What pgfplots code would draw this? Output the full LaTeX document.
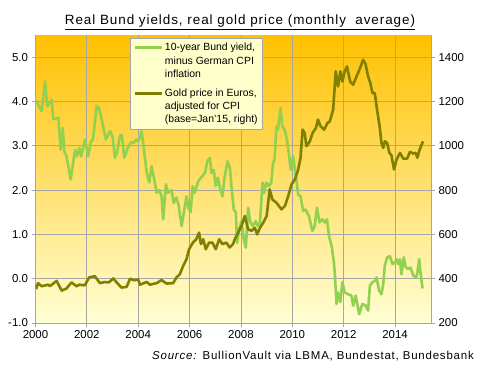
\documentclass[border=0pt]{standalone}
\usepackage{pgfplots}
\pgfplotsset{compat=1.18}
\usepackage{fontspec}
\setmainfont{Liberation Sans}
\newfontfamily\spacedfont[LetterSpace=7]{Liberation Sans}
\definecolor{bundgreen}{HTML}{92D050}
\definecolor{goldolive}{HTML}{7F7F00}
\definecolor{gridgray}{HTML}{A6A6A6}
\definecolor{bgtop}{HTML}{FFC000}
\definecolor{bgmid}{HTML}{FFF384}
\definecolor{bgbot}{HTML}{FFFFD5}
\definecolor{legbg}{HTML}{FFFFCC}

\pgfplotstableread{
x y
2000.02 4.02
2000.24 3.78
2000.37 4.45
2000.46 3.89
2000.63 4.04
2000.69 3.60
2000.89 3.63
2000.98 2.91
2001.06 3.40
2001.12 2.88
2001.21 2.76
2001.37 2.24
2001.54 2.91
2001.60 2.76
2001.71 2.95
2001.77 2.76
2001.93 3.14
2002.05 2.77
2002.16 3.10
2002.24 3.14
2002.38 3.90
2002.47 3.85
2002.58 3.59
2002.74 3.14
2002.90 3.33
2003.00 3.21
2003.09 2.73
2003.17 2.84
2003.29 3.23
2003.36 3.25
2003.46 2.73
2003.59 2.95
2003.72 3.08
2003.83 3.07
2003.93 3.14
2004.00 3.10
2004.07 3.18
2004.13 3.33
2004.20 3.03
2004.33 2.39
2004.43 2.17
2004.52 2.54
2004.61 2.28
2004.72 1.94
2004.82 2.00
2004.91 1.86
2004.97 1.34
2005.08 2.13
2005.16 1.94
2005.30 2.00
2005.38 1.71
2005.49 1.83
2005.57 1.66
2005.69 1.19
2005.78 1.50
2005.88 1.86
2005.95 1.60
2006.04 1.50
2006.12 2.09
2006.20 1.94
2006.34 2.20
2006.47 2.30
2006.60 2.39
2006.69 2.65
2006.79 2.73
2006.85 2.39
2006.94 2.45
2007.02 2.09
2007.10 2.28
2007.20 2.00
2007.28 1.86
2007.36 2.28
2007.48 2.65
2007.57 2.50
2007.63 2.09
2007.72 1.56
2007.80 1.50
2007.85 0.81
2007.93 1.11
2008.02 1.30
2008.11 0.89
2008.19 0.70
2008.28 1.60
2008.37 1.27
2008.46 1.19
2008.57 1.30
2008.65 1.19
2008.74 1.27
2008.84 2.17
2008.90 1.94
2008.99 2.17
2009.09 2.09
2009.18 2.17
2009.25 2.61
2009.31 2.69
2009.38 3.44
2009.44 3.36
2009.54 3.85
2009.61 3.44
2009.70 3.36
2009.79 3.14
2009.87 2.80
2009.94 2.46
2010.03 2.76
2010.14 2.31
2010.23 1.90
2010.32 1.86
2010.42 1.53
2010.52 1.56
2010.65 1.41
2010.78 1.08
2010.87 1.19
2010.96 1.60
2011.06 1.27
2011.17 1.34
2011.26 1.27
2011.35 1.34
2011.43 0.96
2011.53 0.74
2011.62 0.36
2011.66 0.06
2011.72 -0.57
2011.78 -0.31
2011.87 -0.53
2011.95 -0.08
2012.04 -0.31
2012.17 -0.35
2012.30 -0.38
2012.37 -0.61
2012.47 -0.38
2012.60 -0.80
2012.73 -0.57
2012.86 -0.61
2012.95 -0.72
2013.02 -0.16
2013.12 -0.08
2013.21 -0.05
2013.28 0.03
2013.38 -0.27
2013.47 -0.35
2013.54 -0.12
2013.60 0.29
2013.69 0.48
2013.80 0.51
2013.90 0.33
2013.99 0.36
2014.06 0.44
2014.12 0.33
2014.19 0.44
2014.25 0.10
2014.34 0.48
2014.41 0.27
2014.50 0.22
2014.60 0.25
2014.71 0.07
2014.81 0.03
2014.86 0.10
2014.94 0.44
2014.99 0.14
2015.07 -0.22
}\bundtable

\pgfplotstableread{
x y
2000.02 353
2000.10 380
2000.24 366
2000.50 373
2000.56 366
2000.82 390
2001.02 346
2001.21 356
2001.40 383
2001.60 366
2001.70 373
2001.92 370
2002.09 406
2002.31 411
2002.51 380
2002.70 385
2002.85 383
2003.03 401
2003.16 383
2003.35 360
2003.55 363
2003.68 400
2003.83 393
2004.00 396
2004.07 373
2004.33 385
2004.46 373
2004.72 380
2004.91 394
2005.10 378
2005.36 380
2005.49 406
2005.62 420
2005.75 458
2005.88 488
2005.98 533
2006.13 563
2006.26 578
2006.37 608
2006.44 556
2006.53 578
2006.63 533
2006.76 563
2006.89 563
2007.02 533
2007.15 578
2007.28 556
2007.43 563
2007.56 541
2007.69 556
2007.76 578
2007.89 608
2008.02 638
2008.15 683
2008.28 623
2008.41 616
2008.54 630
2008.63 600
2008.74 630
2008.87 653
2009.00 683
2009.12 803
2009.22 758
2009.38 743
2009.58 713
2009.71 728
2009.84 773
2009.97 826
2010.10 848
2010.23 893
2010.32 946
2010.40 1073
2010.48 1058
2010.55 998
2010.68 1020
2010.79 1058
2010.92 1080
2011.00 1118
2011.10 1088
2011.24 1073
2011.37 1103
2011.46 1110
2011.59 1163
2011.69 1336
2011.78 1268
2011.87 1336
2011.95 1290
2012.04 1336
2012.13 1358
2012.25 1290
2012.37 1276
2012.50 1313
2012.60 1340
2012.69 1366
2012.75 1388
2012.85 1370
2012.95 1313
2013.04 1283
2013.12 1238
2013.21 1238
2013.30 1163
2013.40 1088
2013.47 1013
2013.54 990
2013.60 1020
2013.69 1013
2013.78 968
2013.86 957
2013.96 893
2014.06 938
2014.19 968
2014.32 942
2014.47 942
2014.58 972
2014.71 965
2014.81 968
2014.87 946
2014.96 983
2015.09 1020
}\goldtable

\begin{document}
\begin{tikzpicture}
\useasboundingbox (0bp,0bp) rectangle (480bp,367bp);
\pgfplotsset{
  common/.style={
    at={(35.5bp,44bp)}, anchor=south west,
    scale only axis, width=395.5bp, height=288bp,
    xmin=2000, xmax=2015.4,
    tick label style={font=\fontsize{11.5}{13}\selectfont, black},
    /pgf/number format/assume math mode=true,
    tick align=outside, major tick length=4bp,
    tick style={gridgray, line width=0.75bp},
    axis line style={gridgray, line width=0.75bp},
    every axis plot/.append style={line width=2.6bp, line join=round},
  }
}
\begin{axis}[common,
  axis background/.style={top color=bgtop, middle color=bgmid, bottom color=bgbot},
  axis x line*=bottom, axis y line*=left,
  ymin=-1, ymax=5.5,
  xtick={2000,2002,...,2014},
  xticklabel style={/pgf/number format/1000 sep={}},
  ytick={-1,0,...,5},
  yticklabel style={/pgf/number format/.cd, fixed, fixed zerofill, precision=1},
  grid=major, major grid style={gridgray, line width=0.75bp},
]
\addplot[bundgreen, no markers] table[x=x,y=y] {\bundtable};
\end{axis}
\begin{axis}[common,
  axis x line=none, axis y line*=right,
  ymin=200, ymax=1500,
  ytick={200,400,...,1400},
  yticklabel style={/pgf/number format/1000 sep={}},
  legend style={at={(0.239,0.99)}, anchor=north west, fill=legbg, draw=gridgray,
    line width=0.75bp, font=\fontsize{10.5}{13.3}\selectfont,
    cells={align=left, anchor=west}, row sep=6bp, inner xsep=3bp, inner ysep=3bp},
  legend image code/.code={\draw[#1] (0bp,13.3bp) -- (27bp,13.3bp); \path (0bp,-13.3bp);},
]
\addlegendimage{bundgreen, line width=2.6bp}
\addlegendentry{10-year Bund yield,\\minus German CPI\\inflation}
\addplot[goldolive, no markers] table[x=x,y=y] {\goldtable};
\addlegendentry{Gold price in Euros,\\adjusted for CPI\\(base=Jan'15, right)}
\end{axis}
\node[anchor=base] at (240bp,342bp) {\spacedfont\fontsize{13.5}{16}\selectfont\underline{Real Bund yields, real gold price (monthly\ \ average)}};
\node[anchor=base east, inner sep=0pt] at (474bp,8bp) {\spacedfont\fontsize{11.5}{13}\selectfont\textit{Source:} BullionVault via LBMA, Bundestat, Bundesbank};
\end{tikzpicture}
\end{document}
